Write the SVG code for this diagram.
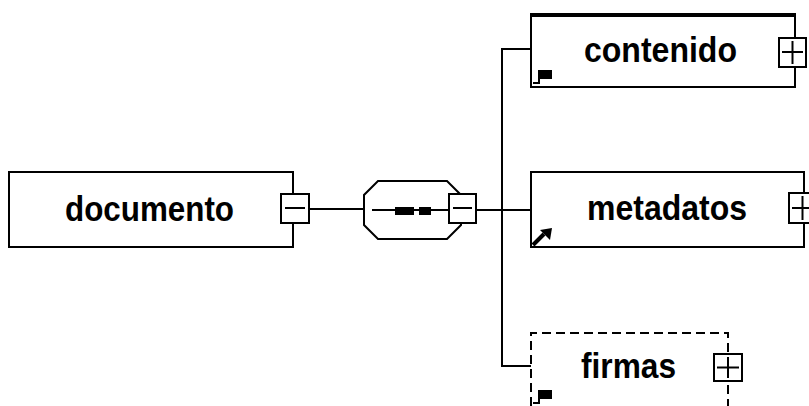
<svg xmlns="http://www.w3.org/2000/svg" width="809" height="406" viewBox="0 0 809 406">
<style>
.box{fill:#fff;stroke:#000;stroke-width:2}
.dash{fill:#fff;stroke:#000;stroke-width:2;stroke-dasharray:9 5}
.ln{fill:none;stroke:#000;stroke-width:2}
.btn{fill:#fff;stroke:#000;stroke-width:2}
.lbl{font-family:"Liberation Sans",Arial,sans-serif;font-weight:bold;font-size:35px;fill:#000}
</style>
<rect width="809" height="406" fill="#fff"/>
<g id="connectors">
<line class="ln" x1="309" y1="209" x2="364" y2="209"/>
<line class="ln" x1="476" y1="210" x2="531" y2="210"/>
<polyline class="ln" points="531,49 502,49 502,366 531,366"/>
</g>
<g id="documento">
<rect class="box" x="9" y="172" width="284" height="75"/>
<text class="lbl" x="65" y="221" textLength="169" lengthAdjust="spacingAndGlyphs">documento</text>
<rect class="btn" x="281" y="194" width="28" height="29"/>
<line class="ln" x1="285" y1="208" x2="305" y2="208"/>
</g>
<g id="sequence">
<polygon class="box" points="378,181 447,181 461,195 461,225 447,239 378,239 364,225 364,195"/>
<line class="ln" x1="372" y1="210" x2="449" y2="210"/>
<rect x="395" y="207" width="19" height="8" fill="#000"/>
<rect x="419" y="207" width="12" height="8" fill="#000"/>
<rect class="btn" x="449" y="194" width="27" height="29"/>
<line class="ln" x1="453" y1="208" x2="472" y2="208"/>
</g>
<g id="contenido">
<rect class="box" x="531" y="15" width="264" height="72"/>
<line x1="530" y1="15" x2="796" y2="15" stroke="#000" stroke-width="4"/>
<text class="lbl" x="584" y="62" textLength="153" lengthAdjust="spacingAndGlyphs">contenido</text>
<rect class="btn" x="779" y="38" width="27" height="29"/>
<line class="ln" x1="782" y1="52" x2="803" y2="52"/>
<line class="ln" x1="792.5" y1="41" x2="792.5" y2="64"/>
<rect x="538" y="70" width="14" height="9" fill="#000"/>
<polyline fill="none" stroke="#000" stroke-width="2" points="539,78 539,83 533,83"/>
</g>
<g id="metadatos">
<rect class="box" x="531" y="172" width="273" height="75"/>
<text class="lbl" x="587" y="220" textLength="160" lengthAdjust="spacingAndGlyphs">metadatos</text>
<rect class="btn" x="789" y="193" width="27" height="30"/>
<line class="ln" x1="792" y1="208" x2="809" y2="208"/>
<line class="ln" x1="802.5" y1="196" x2="802.5" y2="220"/>
<line x1="533" y1="245" x2="544" y2="234" stroke="#000" stroke-width="4"/>
<polygon points="540,230 552,228 550,240" fill="#000"/>
</g>
<g id="firmas">
<path class="dash" d="M531,420 L531,333 L728,333 L728,420"/>
<text class="lbl" x="581" y="378" textLength="95" lengthAdjust="spacingAndGlyphs">firmas</text>
<rect class="btn" x="714" y="354" width="28" height="27"/>
<line class="ln" x1="717" y1="367.5" x2="739" y2="367.5"/>
<line class="ln" x1="728" y1="357" x2="728" y2="378"/>
<rect x="538" y="390" width="14" height="9" fill="#000"/>
<polyline fill="none" stroke="#000" stroke-width="2" points="539,398 539,403 533,403"/>
</g>
</svg>
